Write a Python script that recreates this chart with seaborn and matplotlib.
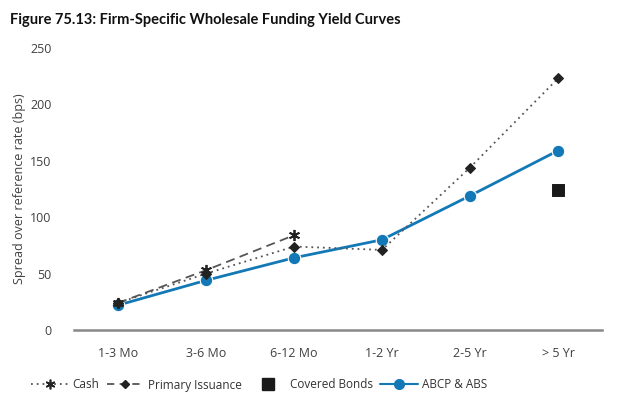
import matplotlib
matplotlib.use("Agg")
import matplotlib.pyplot as plt
from matplotlib.lines import Line2D
import seaborn as sns
import pandas as pd
import numpy as np

categories = ["1-3 Mo", "3-6 Mo", "6-12 Mo", "1-2 Yr", "2-5 Yr", "> 5 Yr"]
cash = [24, 50, 74, 71, 144, 223]
primary_issuance = [24, 53, 84]
covered_bonds_cat = ["> 5 Yr"]
covered_bonds = [124]
abcp_abs = [22, 44, 64, 80, 119, 159]
title = "Figure 75.13: Firm-Specific Wholesale Funding Yield Curves"
ylabel = "Spread over reference rate (bps)"
yticks = [0, 50, 100, 150, 200, 250]

sns.set_theme(style="white")
plt.rcParams['font.family'] = ['Open Sans', 'DejaVu Sans']

pos = {c: i for i, c in enumerate(categories)}
df_cash = pd.DataFrame({"x": [pos[c] for c in categories], "y": cash})
df_pi = pd.DataFrame({"x": [pos[c] for c in categories[:len(primary_issuance)]], "y": primary_issuance})
df_cb = pd.DataFrame({"x": [pos[c] for c in covered_bonds_cat], "y": covered_bonds})
df_ab = pd.DataFrame({"x": [pos[c] for c in categories], "y": abcp_abs})

fig = plt.figure(figsize=(6.24, 4.07), dpi=100)
ax = fig.add_axes([74/624, 1-330/407, 528/624, 282/407])

blue = "#1379b6"
gray = "#555555"
asterisk = (6, 2, 0)

sns.lineplot(data=df_pi, x="x", y="y", ax=ax, color=gray, linewidth=1.3,
             linestyle=(0, (5, 3)), marker=asterisk, markersize=8,
             markeredgecolor="#222222", markeredgewidth=1.3, zorder=3)
sns.lineplot(data=df_cash, x="x", y="y", ax=ax, color=gray, linewidth=1.3,
             linestyle=(0, (1, 2.2)), marker="D", markersize=5,
             markerfacecolor="#222222", markeredgecolor="#222222", zorder=3)
sns.lineplot(data=df_ab, x="x", y="y", ax=ax, color=blue, linewidth=2.0,
             marker="o", markersize=9, markerfacecolor=blue,
             markeredgecolor="white", markeredgewidth=0.8, zorder=2)
sns.scatterplot(data=df_cb, x="x", y="y", ax=ax, color="#1a1a1a", marker="s",
                s=75, edgecolor="#1a1a1a", zorder=3)

ax.set_xlim(-0.5, len(categories) - 0.5)
ax.set_ylim(0, 250)
ax.set_xticks(range(len(categories)))
ax.set_xticklabels(categories)
ax.set_yticks(yticks)
ax.set_xlabel("")
ax.set_ylabel(ylabel, fontsize=9, color="#404040")
ax.yaxis.set_label_coords(-(74 - 26) / 528, 0.5)
ax.tick_params(axis="both", labelsize=9, colors="#404040", length=0)
ax.tick_params(axis="x", pad=12)
ax.tick_params(axis="y", pad=16)
for s in ["top", "right", "left"]:
    ax.spines[s].set_visible(False)
ax.spines["bottom"].set_color("#888888")
ax.spines["bottom"].set_linewidth(1.8)
for line in ax.lines:
    line.set_clip_on(False)
for coll in ax.collections:
    coll.set_clip_on(False)

fig.text(10/624, 1-20/407, title, fontsize=10.5, fontweight="bold",
         family=["Lato", "DejaVu Sans"], color="#111111", va="center", ha="left")

handles = [
    Line2D([], [], color=gray, linestyle=(0, (1, 2.2)), linewidth=1.3,
           marker=asterisk, markersize=7, markeredgecolor="#222222", markeredgewidth=1.2),
    Line2D([], [], color=gray, linestyle=(0, (4, 3)), linewidth=1.3,
           marker="D", markersize=4, markerfacecolor="#222222", markeredgecolor="#222222"),
    Line2D([], [], color="none", marker="s", markersize=9,
           markerfacecolor="#1a1a1a", markeredgecolor="#1a1a1a"),
    Line2D([], [], color=blue, linewidth=1.5, marker="o", markersize=7,
           markerfacecolor=blue, markeredgecolor=blue),
]
labels = ["Cash", "Primary Issuance", "Covered Bonds", "ABCP & ABS"]
leg = fig.legend(handles, labels, loc="center", bbox_to_anchor=(259/624, 1-385/407),
                 ncol=4, frameon=False, fontsize=8.5, handlelength=3.2,
                 columnspacing=0.6, handletextpad=0.3)
for t in leg.get_texts():
    t.set_color("#333333")

fig.savefig("out.png", dpi=100)
